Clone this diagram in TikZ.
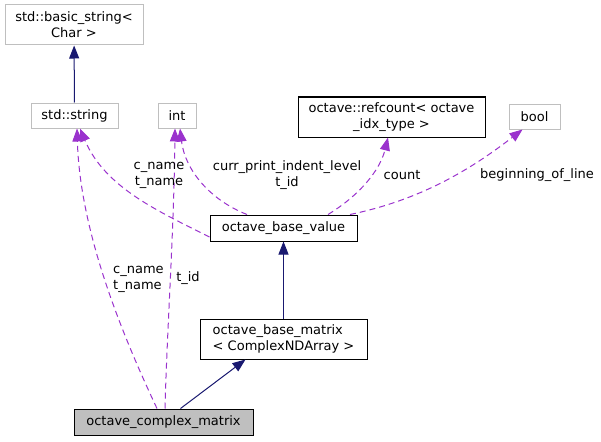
\documentclass[tikz,border=0pt]{standalone}
\usepackage{fontspec}
\setmainfont{DejaVu Sans}
\usetikzlibrary{arrows.meta}
\definecolor{edgegrey}{HTML}{BFBFBF}
\definecolor{navy}{HTML}{191970}
\definecolor{orchid}{HTML}{9A32CD}
\begin{document}
\begin{tikzpicture}[
    x=1pt, y=-1pt,
    font=\fontsize{13}{16}\selectfont,
    cls/.style={rectangle, draw=black, line width=1pt, inner sep=0pt, fill=white},
    extcls/.style={cls, draw=edgegrey},
    curcls/.style={cls, fill=edgegrey},
    inherit/.style={draw=navy, line width=1pt, -{Triangle[length=13pt, width=10pt]}},
    usage/.style={draw=orchid, line width=1pt, dash pattern=on 6pt off 4pt, -{Triangle[length=13pt, width=10pt]}},
    lbl/.style={inner sep=0pt}
  ]
  \useasboundingbox (0,0) rectangle (601,441);
  \node[extcls, minimum width=138pt, minimum height=40pt, align=center] (bsc) at (74,25) {std::basic\_string\textless\\Char \textgreater};
  \node[extcls, minimum width=87pt, minimum height=25pt] (str) at (74.5,115.5) {std::string};
  \node[extcls, minimum width=38pt, minimum height=25pt] (int) at (177,115.5) {int};
  \node[cls, minimum width=187pt, minimum height=40pt, align=center] (rc) at (391.5,117) {octave::refcount\textless{} octave\\\_idx\_type \textgreater};
  \node[extcls, minimum width=51pt, minimum height=25pt] (bool) at (534.5,116.5) {bool};
  \node[cls, minimum width=147pt, minimum height=26pt] (bv) at (283.5,228) {octave\_base\_value};
  \node[cls, minimum width=167pt, minimum height=40pt, align=left] (bm) at (283.5,339) {octave\_base\_matrix\\\textless{} ComplexNDArray \textgreater};
  \node[curcls, minimum width=179pt, minimum height=26pt] (cm) at (163.5,422) {octave\_complex\_matrix};
  \draw[inherit] (str) -- (bsc);
  \draw[inherit] (bm) -- (bv);
  \draw[inherit] ([xshift=17pt]cm.north) -- ([xshift=-38pt]bm.south);
  \draw[usage] ([xshift=-6.5pt]cm.north) .. controls (120,330) and (80,230) .. ([xshift=2.5pt]str.south);
  \draw[usage] ([xshift=1.5pt]cm.north) .. controls (167,330) and (174,230) .. ([xshift=-2pt]int.south);
  \draw[usage] ([yshift=-9pt]bv.west) .. controls (160,212) and (105,188) .. ([xshift=5.5pt]str.south);
  \draw[usage] ([xshift=-36.5pt]bv.north) .. controls (210,200) and (185,170) .. ([xshift=3pt]int.south);
  \draw[usage] ([xshift=44.5pt]bv.north) .. controls (360,195) and (380,170) .. ([xshift=-3.5pt]rc.south);
  \draw[usage] ([xshift=66.5pt]bv.north) .. controls (420,200) and (470,170) .. ([xshift=-12pt]bool.south);
  \node[lbl, align=center] (l1) at (159,175) {c\_name\\t\_name};
  \node[lbl, align=left, anchor=west] (l2) at (113,279.5) {c\_name\\t\_name};
  \node[lbl] (l3) at (188,278) {t\_id};
  \node[lbl, align=center] (l4) at (287,175) {curr\_print\_indent\_level\\t\_id};
  \node[lbl] (l5) at (402,175) {count};
  \node[lbl] (l6) at (537,175) {beginning\_of\_line};
\end{tikzpicture}
\end{document}
